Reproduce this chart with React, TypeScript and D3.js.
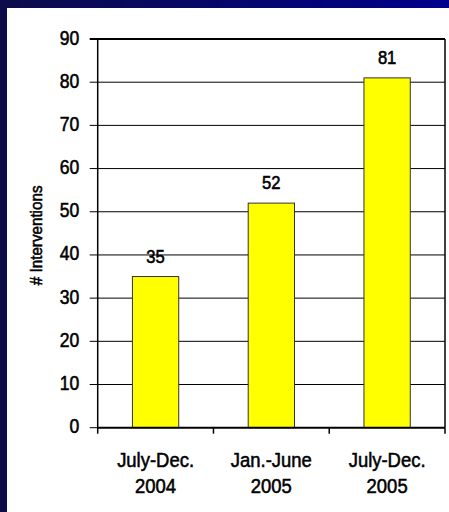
import React from 'react';
import * as d3 from 'd3';

const categories = [['July-Dec.', '2004'], ['Jan.-June', '2005'], ['July-Dec.', '2005']];
const interventions = [35, 52, 81];
const yTicks = [0, 10, 20, 30, 40, 50, 60, 70, 80, 90];

const W = 449;
const H = 512;
const margin = { left: 97.7, right: 4, top: 39, bottom: 84.3 };
const FONT = '"Liberation Sans", Arial, sans-serif';

// narrow-ish, slightly heavy text, like the upscaled Arial in the original slide
function Label({ x, y, size, anchor = 'middle', squeeze = 0.9, rotate = 0, children }: any) {
  return (
    <g transform={`translate(${x},${y}) rotate(${rotate}) scale(${squeeze},1)`}>
      <text x={0} y={0} textAnchor={anchor} fontFamily={FONT} fontSize={size} fill="#000" stroke="#000" strokeWidth={0.55}>
        {children}
      </text>
    </g>
  );
}

export default function App() {
  const x = d3.scaleBand<number>()
    .domain(d3.range(categories.length))
    .range([margin.left, W - margin.right])
    .paddingInner(0)
    .paddingOuter(0);
  const y = d3.scaleLinear().domain([0, 90]).range([H - margin.bottom, margin.top]);
  const barW = x.bandwidth() * 0.4;
  const x0 = margin.left;
  const x1 = W - margin.right;
  const yBase = y(0);

  return (
    <div style={{ position: 'absolute', left: 0, top: 0, width: W, height: H }}>
      <svg width={W} height={H} style={{ display: 'block' }}>
        <defs>
          <linearGradient id="topbar" x1="0" x2="1" y1="0" y2="0">
            <stop offset="0" stopColor="#0c0c4a" />
            <stop offset="1" stopColor="#00008c" />
          </linearGradient>
        </defs>
        <rect x={0} y={0} width={W} height={H} fill="#0c0c4a" />
        <rect x={0} y={0} width={W} height={8} fill="url(#topbar)" />
        <rect x={7} y={8} width={W - 7} height={H - 8} fill="#ffffff" />

        {/* grid lines and y ticks */}
        {yTicks.map(t => (
          <g key={t}>
            <line x1={x0 - 8} x2={t === 0 ? x0 : x1} y1={y(t)} y2={y(t)} stroke="#000" strokeWidth={t === 90 ? 2 : 1} />
            <Label x={x0 - 18.4} y={y(t) + 5.5} size={19.5} anchor="end">{t}</Label>
          </g>
        ))}

        {/* bars */}
        {interventions.map((v, i) => (
          <g key={i}>
            <rect
              x={(x(i) as number) + (x.bandwidth() - barW) / 2}
              y={y(v)}
              width={barW}
              height={yBase - y(v)}
              fill="#ffff00"
              stroke="#333"
              strokeWidth={1}
            />
            <Label x={(x(i) as number) + x.bandwidth() / 2} y={y(v) - 14} size={17.5} squeeze={0.95}>{v}</Label>
          </g>
        ))}

        {/* frame */}
        <line x1={x0} x2={x0} y1={margin.top} y2={yBase} stroke="#000" strokeWidth={1.5} />
        <line x1={x1} x2={x1} y1={margin.top} y2={yBase} stroke="#000" strokeWidth={1.5} />
        <line x1={x0} x2={x1} y1={yBase} y2={yBase} stroke="#000" strokeWidth={2} />

        {/* x ticks */}
        {d3.range(categories.length + 1).map(i => {
          const xx = i < categories.length ? (x(i) as number) : x1;
          return <line key={i} x1={xx} x2={xx} y1={yBase} y2={yBase + 6} stroke="#000" strokeWidth={1.5} />;
        })}

        {categories.map((c, i) =>
          c.map((line, j) => (
            <Label key={`${i}-${j}`} x={(x(i) as number) + x.bandwidth() / 2} y={yBase + 39 + j * 26} size={20.5}>{line}</Label>
          ))
        )}

        <Label x={42} y={(margin.top + yBase) / 2 + 2} size={16} squeeze={0.95} rotate={-90}># Interventions</Label>
      </svg>
    </div>
  );
}
